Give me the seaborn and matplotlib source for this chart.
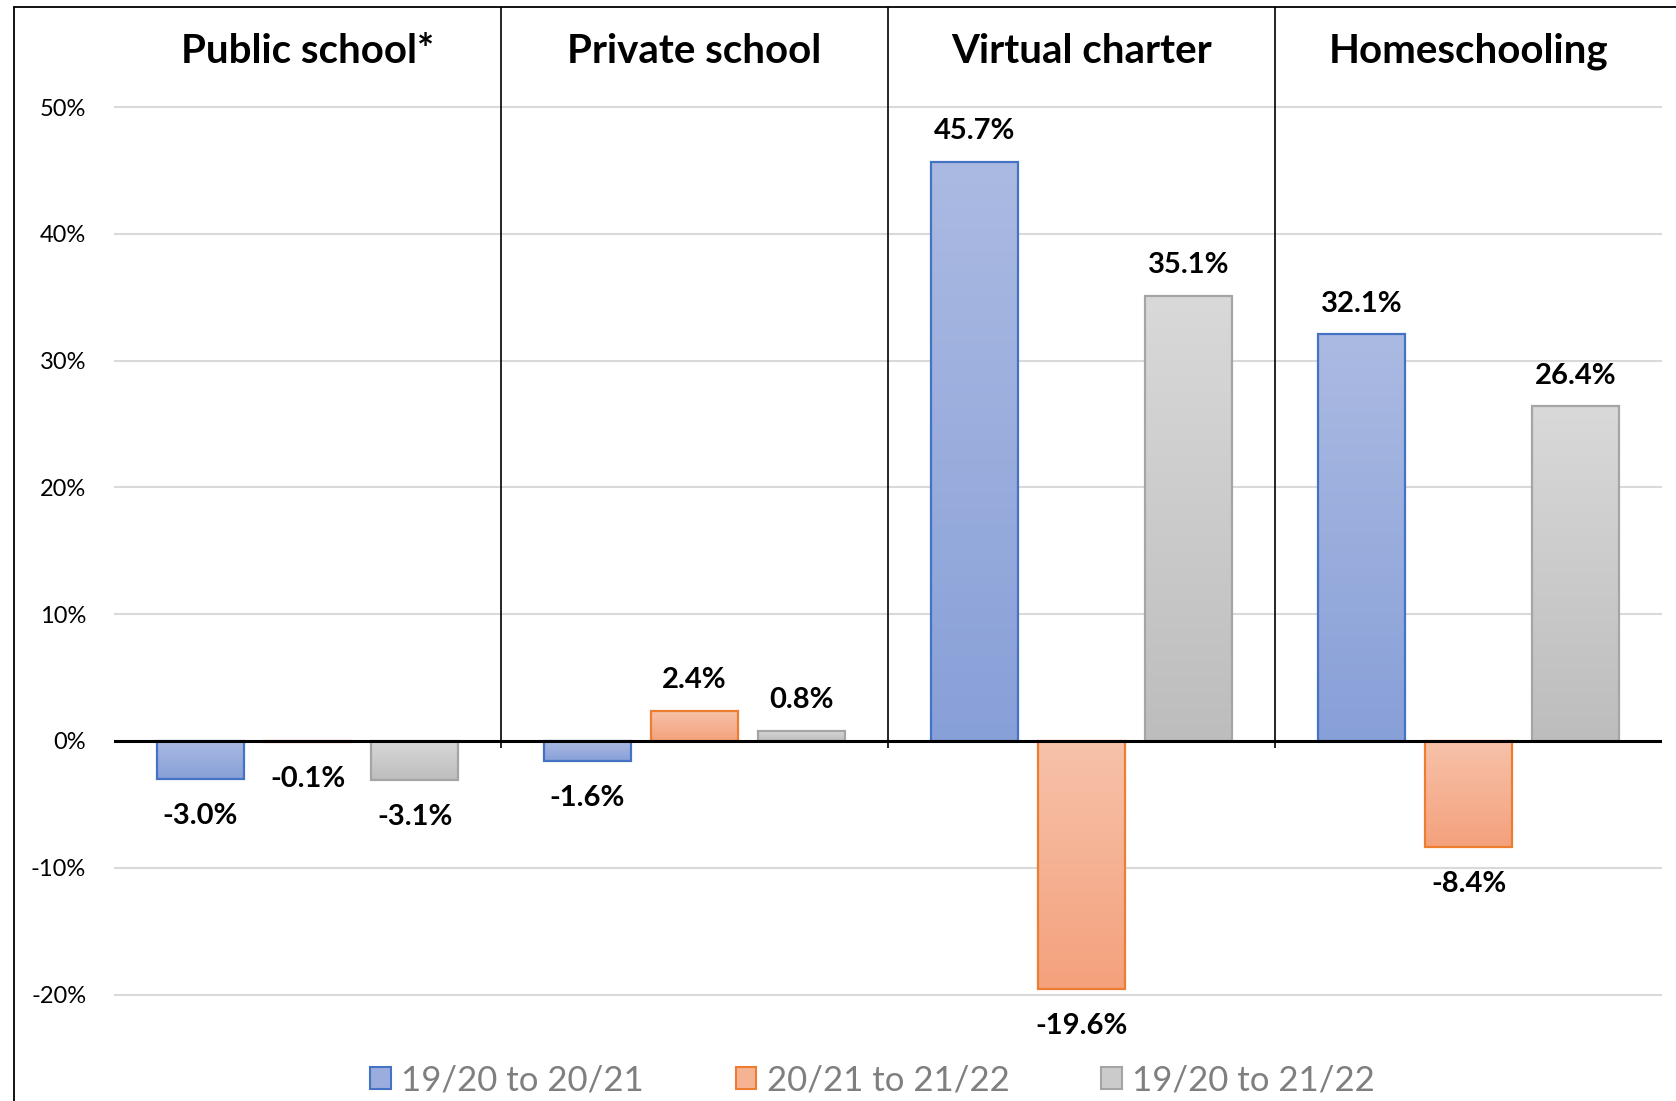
import numpy as np
import pandas as pd
import matplotlib
matplotlib.use('Agg')  # no display
import matplotlib.pyplot as plt
import seaborn as sns
from matplotlib.colors import LinearSegmentedColormap
from matplotlib.lines import Line2D
from matplotlib.patches import Patch

# -- Data ---------------------------------------------------------------
sectors = ['Public school*', 'Private school', 'Virtual charter', 'Homeschooling']
periods = ['19/20 to 20/21', '20/21 to 21/22', '19/20 to 21/22']
change_1920_2021 = [-3.0, -1.6, 45.7, 32.1]
change_2021_2122 = [-0.1, 2.4, -19.6, -8.4]
change_1920_2122 = [-3.1, 0.8, 35.1, 26.4]
y_ticks = [-20, -10, 0, 10, 20, 30, 40, 50]

# -- Style ----------------------------------------------------------------
edge_colors = ['#4472c4', '#ed7d31', '#a5a5a5']
grad_top = ['#abbae2', '#f7c2aa', '#d9d9d9']
grad_bottom = ['#88a0d8', '#f4a17c', '#bdbdbd']
mid_colors = ['#9aaddd', '#f6b394', '#cbcbcb']

sns.set_style('white')
plt.rcParams['font.family'] = ['Lato', 'DejaVu Sans']

W, H = 1676, 1101
Y_MIN, Y_MAX = -28.4, 57.9

df = pd.DataFrame({
    'sector': sectors * 3,
    'period': np.repeat(periods, len(sectors)),
    'change': change_1920_2021 + change_2021_2122 + change_1920_2122,
})

fig = plt.figure(figsize=(W / 100, H / 100), dpi=100)
ax = fig.add_axes([114 / W, 0, (1662 - 114) / W, (H - 7) / H])

sns.barplot(data=df, x='sector', y='change', hue='period',
            order=sectors, hue_order=periods, palette=mid_colors,
            width=0.83, gap=0.19, errorbar=None, legend=False, ax=ax)

# vertical gradient fill for every bar, light on top, darker below
for i, cont in enumerate(ax.containers):
    cmap = LinearSegmentedColormap.from_list(f'g{i}', [grad_top[i], grad_bottom[i]])
    for bar in cont:
        x0 = bar.get_x()
        w = bar.get_width()
        y0 = bar.get_y()
        h = bar.get_height()
        lo, hi = min(y0, y0 + h), max(y0, y0 + h)
        ax.imshow(np.linspace(0, 1, 256).reshape(-1, 1), cmap=cmap,
                  extent=[x0, x0 + w, lo, hi], origin='upper',
                  aspect='auto', zorder=2)
        bar.set_facecolor('none')
        bar.set_edgecolor(edge_colors[i])
        bar.set_linewidth(1.6)
        bar.set_zorder(2.5)

        v = h if y0 == 0 else y0 + h
        off = 22 if v >= 0 else -26.5
        ax.annotate(f'{v:.1f}%', (x0 + w / 2, v), xytext=(0, off),
                    textcoords='offset points', ha='center', va='center',
                    fontsize=21, fontweight='bold', color='black')

ax.set_xlim(-0.5, len(sectors) - 0.5)
ax.set_ylim(Y_MIN, Y_MAX)

# grid + zero line
ax.set_yticks(y_ticks, labels=[f'{t}%' for t in y_ticks])
ax.yaxis.grid(True, color='#d9d9d9', lw=1.5)
ax.set_axisbelow(True)
ax.axhline(0, color='black', lw=2.2, zorder=3)
ax.tick_params(axis='y', length=0, pad=20, labelsize=17, labelcolor='black')
ax.tick_params(axis='x', bottom=False, labelbottom=False)
ax.set_xlabel('')
ax.set_ylabel('')
for s in ax.spines.values():
    s.set_visible(False)

# panel separators and headers
ax.vlines([k + 0.5 for k in range(len(sectors) - 1)], -0.55, Y_MAX,
          color='black', lw=1.2, zorder=3, clip_on=False)
for k, s in enumerate(sectors):
    ax.text(k, 54.4, s, ha='center', va='center', fontsize=29,
            fontweight='bold', color='black')

# outer border (left + top)
fig.add_artist(Line2D([14 / W, 14 / W], [0, 1 - 7 / H], transform=fig.transFigure,
                      color='black', lw=1.3))
fig.add_artist(Line2D([14 / W, 1], [1 - 7 / H, 1 - 7 / H], transform=fig.transFigure,
                      color='black', lw=1.3))

handles = [Patch(facecolor=mid_colors[i], edgecolor=edge_colors[i], lw=1.5, label=p)
           for i, p in enumerate(periods)]
ax.legend(handles=handles, loc='center', bbox_to_anchor=(0.49, 0.019), ncol=3,
          frameon=False, fontsize=25, handlelength=0.6, handleheight=0.6,
          handletextpad=0.3, columnspacing=2.63, labelcolor='#7f7f7f')

fig.savefig('out.png', dpi=100)
